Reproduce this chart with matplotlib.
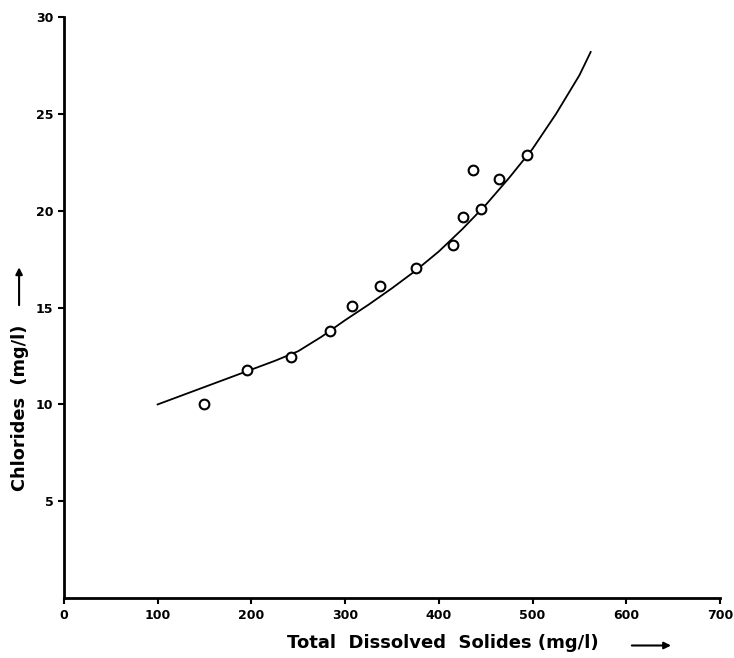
import matplotlib
matplotlib.use("Agg")
import matplotlib.pyplot as plt

# observed data
tds = [149, 195, 242, 284, 307, 337, 376, 415, 426, 436, 445, 464, 494]
chl = [10.0, 11.8, 12.45, 13.8, 15.1, 16.1, 17.05, 18.25, 19.7, 22.1, 20.1, 21.65, 22.9]

# fitted curve
curve_x = [100, 125, 150, 175, 200, 225, 250, 275, 300, 325, 350, 375, 400,
           425, 450, 475, 500, 525, 550, 562]
curve_y = [10.0, 10.45, 10.9, 11.35, 11.8, 12.25, 12.75, 13.5, 14.35, 15.15,
           16.0, 16.9, 17.9, 19.05, 20.3, 21.7, 23.2, 25.0, 27.0, 28.2]

xticks = [0, 100, 200, 300, 400, 500, 600, 700]
yticks = [5, 10, 15, 20, 25, 30]

fig = plt.figure(figsize=(7.34, 6.58), dpi=100)
ax = fig.add_axes([0.087, 0.091, 0.894, 0.883])
ax.plot(curve_x, curve_y, color="black", lw=1.3)
ax.plot(tds, chl, linestyle="none", marker="o", markersize=7,
        markerfacecolor="white", markeredgecolor="black", markeredgewidth=1.5)

ax.set_xlim(0, 700)
ax.set_ylim(0, 30)
ax.set_xticks(xticks)
ax.set_yticks(yticks)
for s in ["top", "right"]:
    ax.spines[s].set_visible(False)
for s in ["left", "bottom"]:
    ax.spines[s].set_linewidth(2)
ax.tick_params(axis="both", direction="out", length=4, width=1.5,
               labelsize=9)
for lab in ax.get_xticklabels() + ax.get_yticklabels():
    lab.set_fontweight("bold")

fig.text(0.391, 0.023, "Total  Dissolved  Solides (mg/l)", fontsize=13,
         fontweight="bold", ha="left", va="center")
ax.annotate("", xy=(0.918, 0.019), xytext=(0.857, 0.019),
            xycoords="figure fraction",
            arrowprops=dict(arrowstyle="-|>", color="black", lw=1.5,
                            mutation_scale=10))
fig.text(0.027, 0.38, "Chlorides  (mg/l)", fontsize=12.8, fontweight="bold",
         rotation=90, ha="center", va="center")
ax.annotate("", xy=(0.026, 0.598), xytext=(0.026, 0.532),
            xycoords="figure fraction",
            arrowprops=dict(arrowstyle="-|>", color="black", lw=1.5,
                            mutation_scale=10))

fig.savefig("out.png", dpi=100)
